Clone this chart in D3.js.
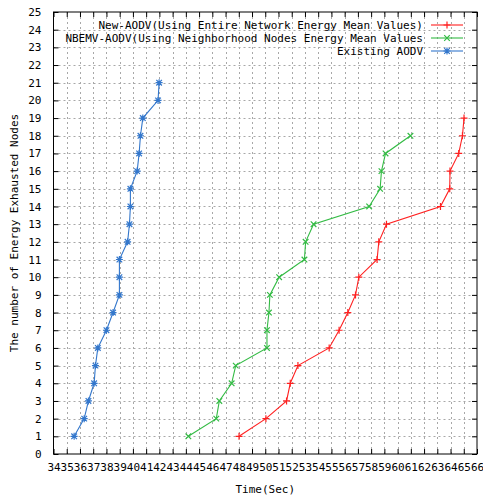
<!DOCTYPE html>
<html><head><meta charset="utf-8">
<script src="https://cdn.jsdelivr.net/npm/d3@7"></script>
<style>body{margin:0;background:#fff}svg{display:block}text{font-family:"DejaVu Sans Mono",monospace;font-size:11px;fill:#000}</style>
</head><body><svg id="c" width="483" height="497"></svg>
<script>
const xTicks = d3.range(34, 67);
const yTicks = d3.range(0, 26);
const nodes = d3.range(1, 22);
const newAodv = [48.02,50.05,51.61,51.89,52.47,54.83,55.58,56.24,56.82,57.07,58.45,58.58,59.16,63.24,63.94,63.96,64.62,64.90,65.02];
const nbemvAodv = [44.19,46.30,46.53,47.46,47.77,50.13,50.13,50.28,50.35,51.05,52.96,53.05,53.65,57.85,58.68,58.78,59.09,60.97];
const existingAodv = [35.56,36.32,36.64,37.07,37.17,37.35,38.00,38.50,38.98,38.98,38.98,39.60,39.74,39.81,39.81,40.32,40.47,40.57,40.75,41.90,41.98];
const seriesNames = ["New-AODV(Using Entire Network Energy Mean Values)","NBEMV-AODV(Using Neighborhood Nodes Energy Mean Values","Existing AODV"];
const colors = ["#ff2020","#33bb44","#3377cc"];
const markers = ["plus","cross","star"];

const L=53.5,R=477,T=12,B=454;
const x=d3.scaleLinear().domain([34,66]).range([L,R]);
const y=d3.scaleLinear().domain([0,25]).range([B,T]);
const svg=d3.select("#c");

// grid
const g=svg.append("g").attr("stroke","#a8a8a8").attr("stroke-dasharray","2,3").attr("stroke-width",1);
xTicks.slice(1,-1).forEach(v=>g.append("line").attr("x1",Math.round(x(v))+0.5).attr("x2",Math.round(x(v))+0.5).attr("y1",T).attr("y2",B));
yTicks.slice(1,-1).forEach(v=>g.append("line").attr("x1",L).attr("x2",R).attr("y1",Math.round(y(v))+0.5).attr("y2",Math.round(y(v))+0.5));

// axes (inward ticks, mirrored)
const ax=(a,tr)=>svg.append("g").attr("transform",tr).call(a).call(s=>{s.select(".domain").remove();s.selectAll("line").attr("stroke","#000");s.selectAll("text").style("font-family","DejaVu Sans Mono").style("font-size","11px").attr("fill","#000");});
ax(d3.axisBottom(x).tickValues(xTicks).tickFormat(d3.format("d")).tickSizeInner(-5).tickPadding(9),`translate(0,${B})`);
ax(d3.axisTop(x).tickValues(xTicks).tickFormat("").tickSizeInner(-5),`translate(0,${T})`);
ax(d3.axisLeft(y).tickValues(yTicks).tickFormat(d3.format("d")).tickSizeInner(-5).tickPadding(12),`translate(${L},0)`);
ax(d3.axisRight(y).tickValues(yTicks).tickFormat("").tickSizeInner(-5),`translate(${R},0)`);
svg.append("rect").attr("x",L).attr("y",T).attr("width",R-L).attr("height",B-T).attr("fill","none").attr("stroke","#000");

function marker(sel,type,cx,cy,c){
  const s=3.5;let d="";
  if(type==="plus"||type==="star") d+=`M${cx-s},${cy}H${cx+s}M${cx},${cy-s}V${cy+s}`;
  if(type==="cross"||type==="star") d+=`M${cx-s*0.8},${cy-s*0.8}L${cx+s*0.8},${cy+s*0.8}M${cx-s*0.8},${cy+s*0.8}L${cx+s*0.8},${cy-s*0.8}`;
  sel.append("path").attr("d",d).attr("stroke",c).attr("stroke-width",1.2).attr("fill","none");
}
const line=d3.line().x(d=>x(d[0])).y(d=>y(d[1]));
[newAodv,nbemvAodv,existingAodv].forEach((vals,i)=>{
  const pts=vals.map((v,j)=>[v,nodes[j]]);
  svg.append("path").attr("d",line(pts)).attr("fill","none").attr("stroke",colors[i]).attr("stroke-width",1.1);
  const mg=svg.append("g");
  pts.forEach(p=>marker(mg,markers[i],x(p[0]),y(p[1]),colors[i]));
});

// legend
seriesNames.forEach((n,i)=>{
  const yy=25+i*13;
  svg.append("text").attr("x",423).attr("y",yy).attr("dy","0.35em").attr("text-anchor","end").text(n);
  svg.append("line").attr("x1",431).attr("x2",463).attr("y1",yy).attr("y2",yy).attr("stroke",colors[i]).attr("stroke-width",1.1);
  marker(svg,markers[i],447,yy,colors[i]);
});

svg.append("text").attr("x",(L+R)/2).attr("y",489).attr("dy","0.35em").attr("text-anchor","middle").text("Time(Sec)");
svg.append("text").attr("transform",`translate(14,${(T+B)/2}) rotate(-90)`).attr("dy","0.35em").attr("text-anchor","middle").text("The number of Energy Exhausted Nodes");
</script></body></html>
